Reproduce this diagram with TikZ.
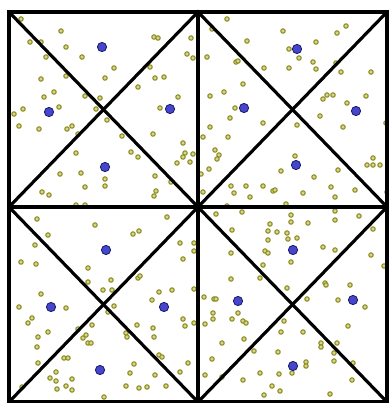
\documentclass[tikz,border=0pt]{standalone}
\definecolor{sampleolive}{RGB}{140,140,35}
\definecolor{samplefill}{RGB}{215,215,140}
\definecolor{centreblue}{RGB}{70,70,205}
\definecolor{centreedge}{RGB}{30,30,110}
\usepackage{tikz}

\begin{document}
\begin{tikzpicture}[x=0.02cm, y=-0.02cm,
    sample/.style={draw=sampleolive, fill=samplefill, line width=0.6pt},
    centre/.style={draw=centreedge, fill=centreblue, line width=0.5pt},
    edge/.style={line width=1.8pt, black, line cap=round}]
  \useasboundingbox (0,0) rectangle (389,403);
  % sample points
  \foreach \x/\y in {21/19, 61/31, 30/42, 41/42, 66/47, 154/37, 158/38, 191/38, 46/57, 82/57,
      187/54, 193/58, 114/68, 150/67, 41/79, 66/76, 105/78, 155/78, 164/77, 138/87,
      54/92, 44/97, 85/96, 100/98, 178/97, 59/107, 23/109, 14/114, 96/109, 160/108,
      19/126, 39/129, 67/129, 72/126, 107/120, 78/134, 122/136, 153/134, 183/143, 131/152,
      138/157, 185/153, 193/154, 183/157, 177/163, 190/162, 76/153, 60/174, 81/173, 105/179,
      105/186, 155/176, 171/182, 85/187, 42/192, 49/195, 156/191, 154/196}
    \filldraw[sample] (\x,\y) circle (2.2);
  \foreach \x/\y in {227/19, 212/29, 283/31, 337/33, 346/26, 247/41, 316/42, 207/57, 236/62, 238/61,
      264/68, 289/49, 299/58, 313/62, 316/69, 336/63, 341/72, 371/72, 289/68, 243/84,
      224/92, 210/96, 323/99, 327/95, 333/95, 347/103, 366/96, 235/108, 230/118, 263/123,
      297/125, 320/116, 343/127, 386/123, 210/127, 203/137, 228/137, 215/150, 219/155, 217/159,
      209/169, 201/174, 295/156, 281/171, 314/177, 338/170, 367/165, 373/158, 373/165, 380/165,
      231/186, 234/193, 246/186, 263/186, 273/191, 275/190, 303/193, 331/187, 335/197, 355/190,
      387/192, 203/192, 250/197}
    \filldraw[sample] (\x,\y) circle (2.2);
  \foreach \x/\y in {76/205, 85/205, 37/219, 95/225, 167/217, 48/235, 133/234, 139/231, 35/245, 21/262,
      36/264, 180/243, 194/243, 194/251, 183/259, 88/268, 88/282, 111/280, 138/278, 140/276,
      103/290, 112/290, 159/292, 172/290, 194/289, 41/294, 152/300, 19/307, 66/308, 114/306,
      32/318, 28/323, 108/312, 183/319, 185/326, 194/323, 137/325, 153/328, 78/329, 92/325,
      48/332, 38/337, 83/338, 86/335, 88/343, 91/343, 126/333, 127/337, 154/337, 37/347,
      64/358, 68/358, 159/355, 162/357, 38/363, 134/364, 188/363, 56/372, 130/373, 155/375,
      180/372, 50/378, 56/381, 72/379, 66/386, 57/389, 72/390, 126/386, 139/388, 147/387,
      166/386, 104/397, 22/387}
    \filldraw[sample] (\x,\y) circle (2.2);
  \foreach \x/\y in {286/204, 227/206, 335/211, 216/214, 242/212, 291/215, 359/216, 291/222, 308/223, 335/220,
      270/224, 268/231, 277/232, 287/233, 297/238, 232/230, 373/229, 268/240, 288/239, 265/251,
      268/253, 231/253, 323/247, 335/250, 291/262, 263/265, 371/255, 384/266, 231/279, 260/278,
      287/288, 325/283, 326/285, 350/285, 204/297, 214/299, 216/299, 238/313, 213/313, 213/319,
      232/319, 243/321, 246/323, 205/324, 307/299, 338/300, 365/307, 284/321, 348/326, 303/332,
      281/332, 321/343, 321/347, 337/343, 334/353, 334/361, 222/343, 244/339, 254/351, 278/352,
      212/359, 260/373, 279/374, 292/373, 306/362, 306/366, 353/363, 205/375, 222/377, 243/380,
      272/386, 280/391, 264/395, 330/394, 352/380}
    \filldraw[sample] (\x,\y) circle (2.2);
  % frame and diagonals
  \coordinate (tl) at (9,12);   \coordinate (mt) at (198,12);  \coordinate (tr) at (387,12);
  \coordinate (ml) at (9,207);  \coordinate (c)  at (198,207); \coordinate (mr) at (387,207);
  \coordinate (bl) at (9,402);  \coordinate (mb) at (198,402); \coordinate (br) at (387,402);
  \draw[edge] (tl) rectangle (br);
  \draw[edge] (mt) -- (mb);
  \draw[edge] (ml) -- (mr);
  \draw[edge] (tl) -- (br);
  \draw[edge] (tr) -- (bl);
  \draw[edge] (mt) -- (ml) -- (mb) -- (mr) -- cycle;
  % one centre per triangle
  \foreach \x/\y in {102/47, 49/112, 170/109, 105/167, 297/49, 244/108, 356/111, 296/165,
      106/250, 51/307, 164/307, 100/370, 293/250, 238/301, 353/300, 293/366}
    \filldraw[centre] (\x,\y) circle (4.6);
\end{tikzpicture}
\end{document}
